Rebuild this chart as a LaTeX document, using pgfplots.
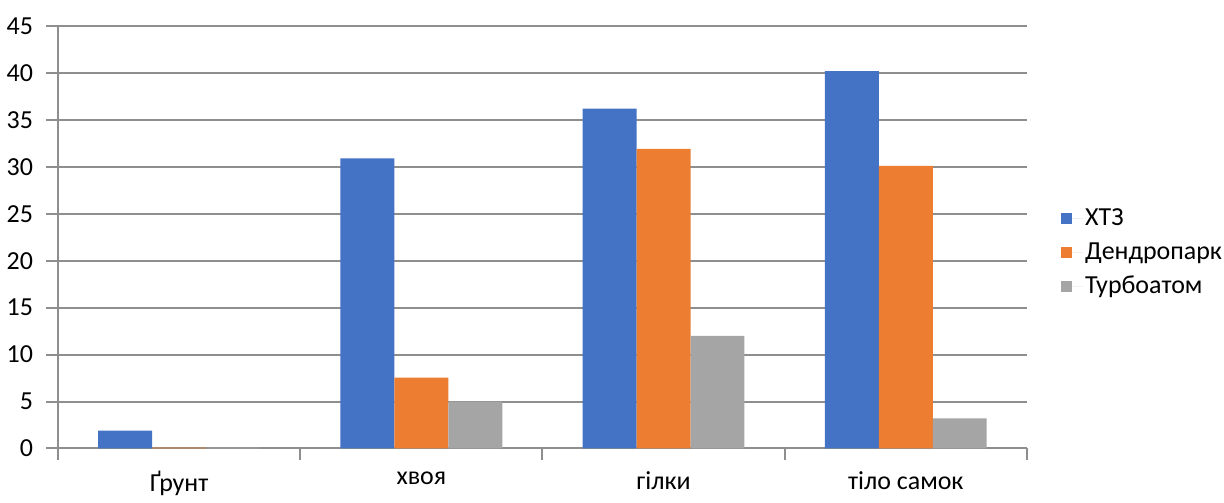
\documentclass[border=0pt]{standalone}
\usepackage{pgfplots}
\pgfplotsset{compat=1.18}
\usepackage{fontspec}
\setmainfont{Carlito}

\definecolor{sBlue}{HTML}{4472C4}
\definecolor{sOrange}{HTML}{ED7D31}
\definecolor{sGray}{HTML}{A5A5A5}
\definecolor{gridGray}{HTML}{8E8E8E}

\begin{document}
\begin{tikzpicture}
\begin{axis}[
  scale only axis,
  width=485pt, height=211.5pt,
  ybar=0pt, bar width=27pt,
  xmin=-0.5, xmax=3.5,
  ymin=0, ymax=45,
  ytick={0,5,...,45},
  xtick={0,1,2,3},
  xticklabels={Ґрунт, хвоя, гілки, тіло самок},
  minor xtick={-0.5,0.5,1.5,2.5,3.5},
  major x tick style={draw=none},
  minor x tick style={draw=gridGray, line width=1pt},
  minor tick length=6pt,
  major tick length=6pt,
  tick align=outside,
  ytick style={draw=gridGray, line width=1pt},
  axis x line*=bottom, axis y line*=left,
  axis line style={draw=gridGray, line width=1pt, -},
  ymajorgrids, grid style={draw=gridGray, line width=1pt},
  font=\fontsize{13}{15}\selectfont,
  tick label style={font=\fontsize{13}{15}\selectfont},
  /pgf/number format/assume math mode=true,
  xticklabel style={yshift=-2pt},
  yticklabel style={xshift=-3pt},
  legend style={draw=none, inner sep=0pt, at={(1.035,0.463)}, anchor=west,
    font=\fontsize{13}{15}\selectfont, row sep=3pt,
    nodes={inner xsep=1pt},
    legend cell align=left},
  legend image code/.code={%
    \path (0pt,0pt) -- (11pt,0pt);
    \fill[#1] (0pt,-2.8pt) rectangle (5.6pt,2.8pt);},
]
\addplot[fill=sBlue, draw=none] coordinates {(0,1.9) (1,30.9) (2,36.2) (3,40.2)};
\addplot[fill=sOrange, draw=none] coordinates {(0,0.08) (1,7.55) (2,31.9) (3,30.1)};
\addplot[fill=sGray, draw=none] coordinates {(0,0.08) (1,5.0) (2,12.0) (3,3.2)};
\legend{ХТЗ, Дендропарк, Турбоатом}
\end{axis}
% white margin above and below the plot area
\path (current axis.north west) ++(0,13pt) coordinate (bbtop);
\path (current axis.south west) ++(0,-21.5pt) coordinate (bbbot);
\useasboundingbox (current bounding box.south west) rectangle (current bounding box.north east)
  (bbtop) (bbbot);
\end{tikzpicture}
\end{document}
